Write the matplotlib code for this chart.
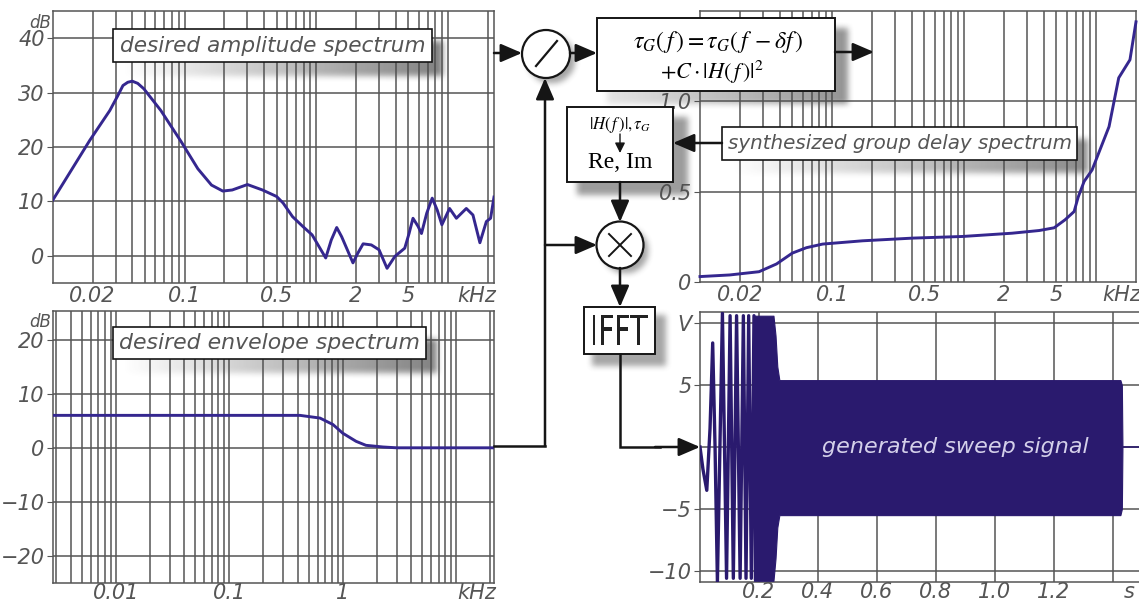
import numpy as np
import matplotlib
matplotlib.use('Agg')
import matplotlib.pyplot as plt
from matplotlib.patches import Rectangle, Circle, PathPatch
from matplotlib.textpath import TextPath
from matplotlib.font_manager import FontProperties
from matplotlib.transforms import Affine2D
from matplotlib.ticker import NullLocator

W, H = 1139, 602

# desired amplitude spectrum (kHz, dB)
amp_f = [0.01, 0.019, 0.027, 0.031, 0.034, 0.037, 0.04, 0.044, 0.049, 0.066, 0.094, 0.126,
         0.16, 0.195, 0.23, 0.3, 0.39, 0.5, 0.56, 0.66, 0.79, 0.93, 1.18, 1.3, 1.43, 1.56,
         1.9, 2.07, 2.27, 2.62, 3.0, 3.45, 3.96, 4.7, 5.07, 5.43, 5.94, 6.3, 6.9, 7.6, 8.3,
         9.0, 10.3, 11.6, 13.8, 15.5, 17.5, 19.6, 21.1, 22.4]
amp_db = [10.3, 21.2, 26.7, 29.4, 31.3, 31.9, 32.1, 31.7, 30.7, 26.7, 21.0, 16.0,
          13.0, 11.9, 12.1, 13.1, 12.1, 10.9, 9.7, 7.2, 5.4, 3.85, -0.4, 2.9, 5.2, 3.5,
          -1.3, 0.5, 2.2, 2.0, 1.1, -2.3, -0.1, 1.4, 4.1, 6.9, 5.4, 4.1, 7.8, 10.6, 8.4,
          5.7, 8.7, 6.9, 8.7, 7.5, 2.4, 6.3, 6.9, 10.8]

# desired envelope spectrum (kHz, dB)
env_f = [0.0028, 0.1, 0.42, 0.63, 0.82, 1.0, 1.31, 1.6, 2.27, 3.0, 21.5]
env_db = [6.0, 6.0, 6.0, 5.5, 4.3, 2.7, 1.2, 0.46, 0.15, 0.0, 0.0]

# synthesized group delay (kHz, s)
gd_f = [0.01, 0.0168, 0.028, 0.038, 0.05, 0.064, 0.085, 0.17, 0.41, 0.97, 2.3, 3.7,
        4.8, 5.8, 6.8, 7.3, 8.1, 9.3, 12.5, 14.8, 18.0, 20.0]
gd_s = [0.03, 0.039, 0.057, 0.10, 0.16, 0.19, 0.21, 0.228, 0.243, 0.252, 0.27, 0.285,
        0.30, 0.344, 0.39, 0.47, 0.557, 0.62, 0.86, 1.13, 1.23, 1.44]

# generated sweep: resolved first cycles (s, V)
sweep_t = [0.0, 0.010, 0.023, 0.034, 0.043, 0.051, 0.059, 0.076, 0.090, 0.102, 0.113,
           0.124, 0.136, 0.147, 0.156, 0.165, 0.174, 0.183, 0.188]
sweep_v = [0.0, -1.8, -3.5, 1.5, 8.4, 0.0, -10.9, 10.8, -10.6, 10.6, -10.6,
           10.6, -10.6, 10.6, -10.6, 10.6, -10.6, 10.6, -10.6]
# dense part: envelope
band_t = [0.183, 0.249, 0.256, 0.262, 0.269, 1.425, 1.43, 1.432]
band_hi = [10.6, 10.6, 9.0, 6.5, 5.4, 5.4, 5.0, 0.0]
band_lo = [-10.8, -10.8, -9.0, -6.5, -5.5, -5.5, -5.0, 0.0]
tail_t = [1.432, 1.6]
tail_v = [0.0, 0.0]

amp_xticks = [0.02, 0.1, 0.5, 2, 5]
amp_xlabels = ['0.02', '0.1', '0.5', '2', '5']
amp_yticks = [0, 10, 20, 30, 40]
env_xticks = [0.01, 0.1, 1]
env_xlabels = ['0.01', '0.1', '1']
env_yticks = [-20, -10, 0, 10, 20]
gd_yticks = [0, 0.5, 1.0]
gd_ylabels = ['0', '0.5', '1.0']
sw_xticks = [0.2, 0.4, 0.6, 0.8, 1.0, 1.2]
sw_xlabels = ['0.2', '0.4', '0.6', '0.8', '1.0', '1.2']
sw_yticks = [-10, -5, 5, 10]
sw_ylabels = ['\u221210', '\u22125', '5', 'V']

LINE = '#35278f'
FILL = '#2a1a6e'
GRID = '#555555'
TXT = '#555555'
INK = '#151515'

plt.rcParams['font.family'] = 'DejaVu Sans'
plt.rcParams['mathtext.fontset'] = 'stix'

fig = plt.figure(figsize=(W / 100, H / 100), dpi=100)


def px_axes(x0, y0, x1, y1):
    return fig.add_axes([x0 / W, 1 - y1 / H, (x1 - x0) / W, (y1 - y0) / H])


def style(ax, xpad=2):
    for s in ax.spines.values():
        s.set_color(GRID)
        s.set_linewidth(1.1)
    ax.tick_params(axis='x', length=0, pad=xpad, labelsize=15, labelcolor=TXT)
    ax.tick_params(axis='y', length=4, pad=2, labelsize=15, labelcolor=TXT, color=GRID)
    ax.xaxis.set_minor_locator(NullLocator())
    ax.yaxis.set_minor_locator(NullLocator())
    for lab in ax.get_xticklabels() + ax.get_yticklabels():
        lab.set_fontstyle('italic')


def log_grid(ax, lo, hi):
    for e in range(int(np.floor(np.log10(lo))), int(np.ceil(np.log10(hi))) + 1):
        for m in range(1, 10):
            v = m * 10.0 ** e
            if lo < v < hi:
                ax.axvline(v, color=GRID, lw=1.1, zorder=1)


# ---- desired amplitude spectrum
axA = px_axes(53, 11, 494, 283)
axA.set_xscale('log')
axA.set_xlim(0.01, 22.4)
axA.set_ylim(-5, 45)
log_grid(axA, 0.01, 22.4)
for v in amp_yticks:
    axA.axhline(v, color=GRID, lw=1.1, zorder=1)
axA.plot(amp_f, amp_db, color=LINE, lw=2.1, zorder=3)
axA.set_xticks(amp_xticks + [16.6], amp_xlabels + ['kHz'])
axA.set_yticks(amp_yticks)
style(axA)
axA.text(-0.005, 0.955, 'dB', transform=axA.transAxes, ha='right', va='center',
         fontsize=12, color=TXT, style='italic')

# ---- desired envelope spectrum
axB = px_axes(53, 311, 494, 583)
axB.set_xscale('log')
axB.set_xlim(0.0028, 21.5)
axB.set_ylim(-25, 25.3)
log_grid(axB, 0.0028, 21.5)
for v in env_yticks:
    axB.axhline(v, color=GRID, lw=1.1, zorder=1)
axB.plot(env_f, env_db, color=LINE, lw=2.1, zorder=3)
axB.set_xticks(env_xticks + [15.2], env_xlabels + ['kHz'])
axB.set_yticks(env_yticks)
style(axB, xpad=0)
axB.text(-0.005, 0.96, 'dB', transform=axB.transAxes, ha='right', va='center',
         fontsize=12, color=TXT, style='italic')

# ---- synthesized group delay
axC = px_axes(700, 11, 1136, 282)
axC.set_xscale('log')
axC.set_xlim(0.01, 20)
axC.set_ylim(0, 1.5)
log_grid(axC, 0.01, 20)
for v in [0.5, 1.0]:
    axC.axhline(v, color=GRID, lw=1.1, zorder=1)
axC.plot(gd_f, gd_s, color=LINE, lw=2.1, zorder=3, clip_on=False)
axC.set_xticks(amp_xticks + [15.6], amp_xlabels + ['kHz'])
axC.set_yticks(gd_yticks, gd_ylabels)
style(axC)

# ---- generated sweep signal
axD = px_axes(700, 312, 700 + 1.6 * 295, 582)
axD.set_xlim(0, 1.6)
axD.set_ylim(-10.9, 10.9)
for v in [0.2, 0.4, 0.6, 0.8, 1.0, 1.2, 1.4]:
    axD.axvline(v, color=GRID, lw=1.1, zorder=1)
for v in [-10, -5, 0, 5, 10]:
    axD.axhline(v, color=GRID, lw=1.1, zorder=1)
axD.fill_between(band_t, band_lo, band_hi, color=FILL, lw=0.8, zorder=3)
axD.plot(sweep_t, sweep_v, color=FILL, lw=2.4, zorder=3)
axD.plot(tail_t, tail_v, color=FILL, lw=1.2, zorder=3)
axD.set_xticks(sw_xticks + [1.455], sw_xlabels + ['s'])
axD.set_yticks(sw_yticks, sw_ylabels)
style(axD, xpad=0)
axD.text(0.864, 0.0, 'generated sweep signal', ha='center', va='center', fontsize=16,
         color='#d4d0ea', style='italic', zorder=5)

# ---- block diagram overlay (pixel coordinates)
ov = fig.add_axes([0, 0, 1, 1])
ov.set_zorder(10)
ov.patch.set_alpha(0)
ov.axis('off')

# soft shadows
gy, gx = np.mgrid[0:H, 0:W]
shade = np.zeros((H, W))


def shade_rect(x0, y0, x1, y1, a0, a1):
    m = (gx >= x0) & (gx <= x1) & (gy >= y0) & (gy <= y1)
    v = a0 + (a1 - a0) * np.clip((gx - x0) / (x1 - x0), 0, 1)
    np.maximum(shade, np.where(m, v, 0), out=shade)


def shade_circle(cx, cy, r, a):
    m = (gx - cx) ** 2 + (gy - cy) ** 2 <= r * r
    np.maximum(shade, np.where(m, a, 0), out=shade)


def blur(a, k):
    ker = np.ones(k) / k
    a = np.apply_along_axis(lambda r: np.convolve(r, ker, mode='same'), 1, a)
    a = np.apply_along_axis(lambda c: np.convolve(c, ker, mode='same'), 0, a)
    return a


shade_rect(123, 41, 442, 75, 0.0, 0.7)
shade_rect(123, 339, 436, 372, 0.0, 0.7)
shade_rect(732, 139, 1087, 172, 0.0, 0.65)
shade_rect(607, 28, 847, 103, 0.15, 0.6)
shade_rect(577, 117, 687, 194, 0.55, 0.55)
shade_rect(592, 315, 665, 365, 0.5, 0.5)
shade_circle(551, 59, 24, 0.5)
shade_circle(625, 250, 23, 0.5)
shade = blur(blur(shade, 7), 7)
rgba = np.zeros((H, W, 4))
rgba[..., :3] = 0.3
rgba[..., 3] = shade
ov.imshow(rgba, extent=(0, W, H, 0), zorder=1, aspect='auto', interpolation='bilinear')
ov.set_xlim(0, W)
ov.set_ylim(H, 0)


def box(x0, y0, x1, y1, lw=1.4):
    ov.add_patch(Rectangle((x0, y0), x1 - x0, y1 - y0, fc='white', ec=INK, lw=lw, zorder=2))


def arrow(x0, y0, x1, y1):
    ov.annotate('', xy=(x1, y1), xytext=(x0, y0), zorder=4,
                arrowprops=dict(arrowstyle='-|>,head_length=0.65,head_width=0.28',
                                color=INK, lw=1.8, shrinkA=0, shrinkB=0, mutation_scale=20))


def line(xs, ys):
    ov.plot(xs, ys, color=INK, lw=1.8, solid_joinstyle='miter', zorder=3)


# label boxes
box(113, 29, 432, 62, lw=1.2)
ov.text(272.5, 45.5, 'desired amplitude spectrum', ha='center', va='center', fontsize=15.6,
        color=TXT, style='italic', zorder=3)
box(113, 327, 426, 359, lw=1.2)
ov.text(269.5, 343, 'desired envelope spectrum', ha='center', va='center', fontsize=15.8,
        color=TXT, style='italic', zorder=3)
box(722, 127, 1077, 160, lw=1.2)
ov.text(899.5, 143.5, 'synthesized group delay spectrum', ha='center', va='center',
        fontsize=14.3, color=TXT, style='italic', zorder=3)

# divide node
ov.add_patch(Circle((546, 54), 24, fc='white', ec=INK, lw=1.6, zorder=2))
ov.plot([536, 557], [66, 41], color=INK, lw=1.6, zorder=3)
arrow(494, 53, 522, 53)
arrow(570, 53, 597, 53)

# group delay formula box
box(597, 18, 835, 91)
ov.text(718, 42, r'$\tau_G(\,f\,)=\tau_G(\,f\;-\delta f\,)$', ha='center', va='center',
        fontsize=17, zorder=3)
ov.text(712, 72, r'$+C\cdot|H(\,f\,)|^2$', ha='center', va='center', fontsize=16,
        zorder=3)
arrow(835, 52, 874, 52)

# magnitude/phase -> Re, Im box
box(567, 107, 673, 182)
ov.text(620, 125, r'$|H(\,f\,)|,\tau_G$', ha='center', va='center', fontsize=12,
        zorder=3)
ov.annotate('', xy=(620, 153), xytext=(620, 134), zorder=4,
            arrowprops=dict(arrowstyle='-|>,head_length=0.5,head_width=0.25', color=INK,
                            lw=1.0, shrinkA=0, shrinkB=0, mutation_scale=12))
ov.text(620, 163, 'Re, Im', ha='center', va='center', fontsize=17,
        family='Liberation Serif', zorder=3)
arrow(722, 143, 673, 143)
arrow(620, 182, 620, 222)

# multiply node
ov.add_patch(Circle((620, 245), 23.5, fc='white', ec=INK, lw=1.6, zorder=2))
ov.plot([609, 631], [234, 256], color=INK, lw=1.4, zorder=3)
ov.plot([609, 631], [256, 234], color=INK, lw=1.4, zorder=3)

# envelope path up to divide and multiply
line([494, 545], [446, 446])
arrow(545, 446, 545, 78)
arrow(545, 245, 597, 245)
arrow(620, 268, 620, 307)

# IFFT box
box(584, 307, 655, 354)
tp = TextPath((0, 0), 'IFFT', size=1, prop=FontProperties(family='DejaVu Sans'))
bb = tp.get_extents()
tr = Affine2D().translate(-bb.x0, -bb.y0).scale(55 / bb.width, -30 / bb.height) \
    .translate(620 - 27.5, 330 + 15)
ov.add_patch(PathPatch(tr.transform_path(tp), fc='#222222', ec='none', zorder=3))
line([620, 620, 660], [354, 447, 447])
arrow(655, 447, 700, 447)

fig.savefig('out.png', dpi=100)
